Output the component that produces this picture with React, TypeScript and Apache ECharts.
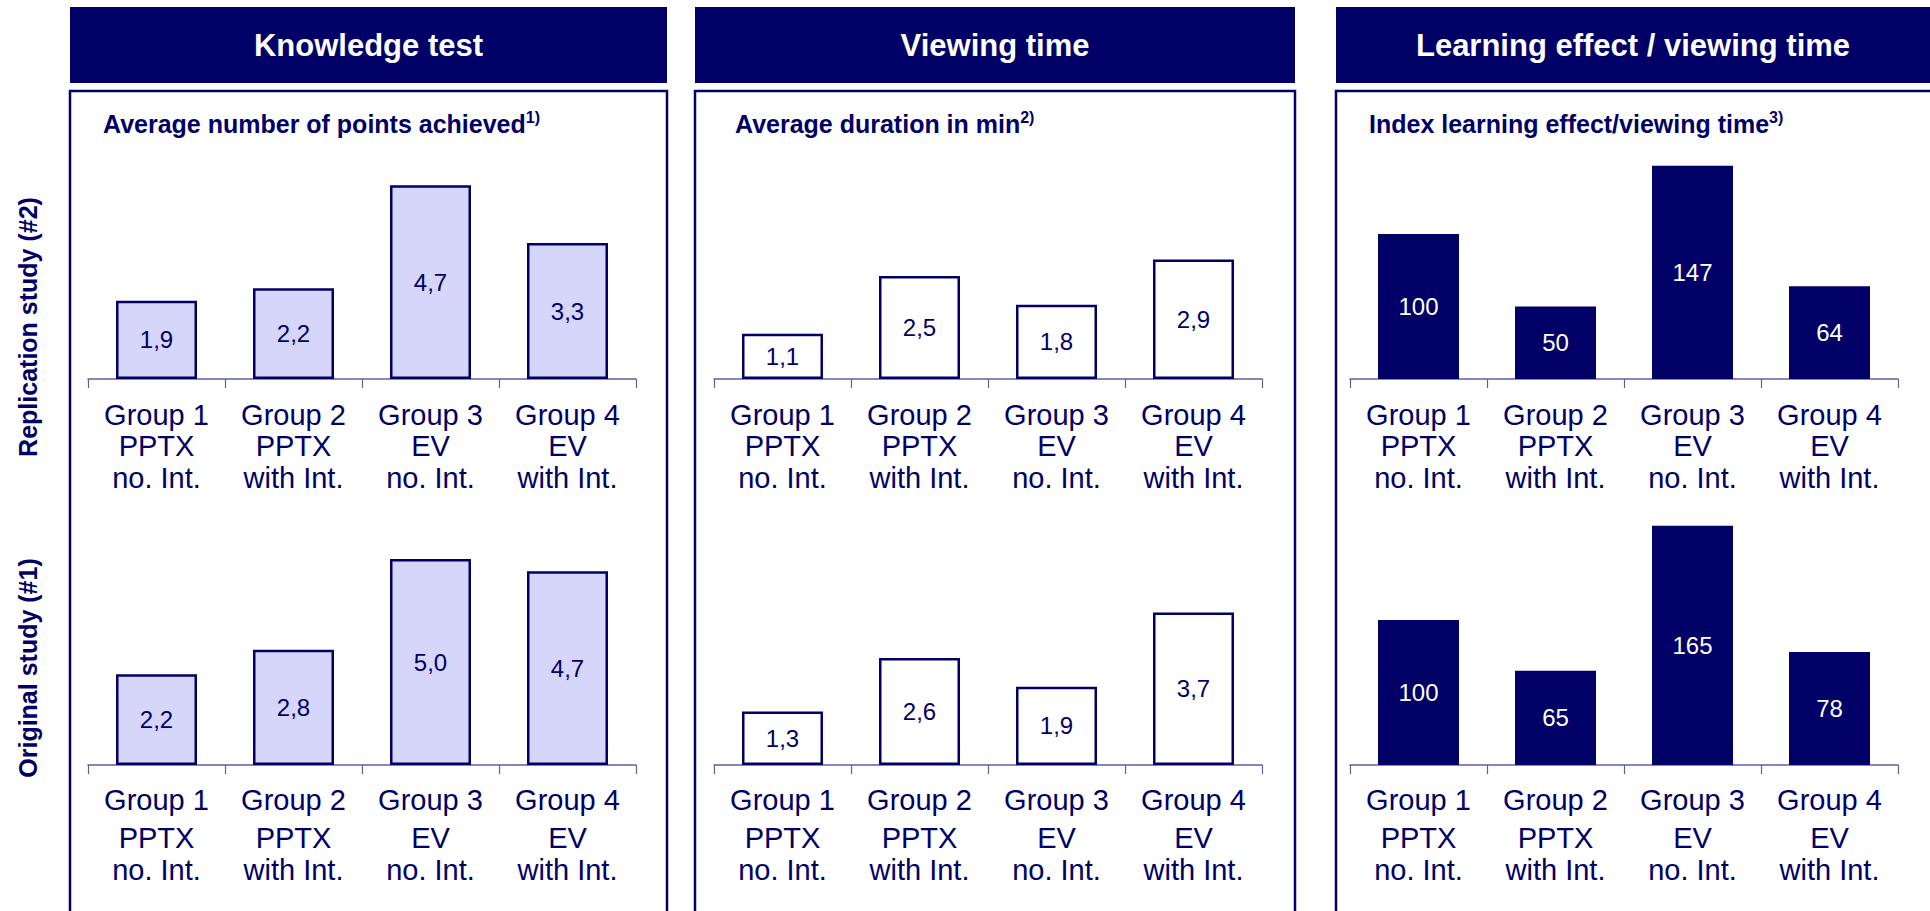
import React, { useEffect, useRef } from "react";
import * as echarts from "echarts";

const categories = [
  "Group 1\nPPTX\nno. Int.",
  "Group 2\nPPTX\nwith Int.",
  "Group 3\nEV\nno. Int.",
  "Group 4\nEV\nwith Int.",
];
const knowledgeReplication = [1.9, 2.2, 4.7, 3.3];
const knowledgeOriginal = [2.2, 2.8, 5.0, 4.7];
const viewingReplication = [1.1, 2.5, 1.8, 2.9];
const viewingOriginal = [1.3, 2.6, 1.9, 3.7];
const indexReplication = [100, 50, 147, 64];
const indexOriginal = [100, 65, 165, 78];

const headers = ["Knowledge test", "Viewing time", "Learning effect / viewing time"];
const subtitles = ["Average number of points achieved", "Average duration in min", "Index learning effect/viewing time"];
const footnotes = ["1)", "2)", "3)"];
const rowLabels = ["Replication study (#2)", "Original study (#1)"];

const NAVY = "#000066";
const LAVENDER = "#D6D6FB";
const AXIS = "#6060A0";
const FONT = "'Liberation Sans', Arial, Helvetica, sans-serif";

export default function App() {
  const ref = useRef<HTMLDivElement>(null);
  useEffect(() => {
    if (!ref.current) return;
    const chart = echarts.init(ref.current, null, { renderer: "svg" });

    const panelX = [70, 695, 1336];
    const panelR = [667, 1295, 1945];
    const gridLeft = [88, 714, 1350];
    const gridW = 548;
    const rowBottom = [379, 765];
    const H = 250;
    const maxVal = [250 / 41.2, 250 / 41.2, 250 / 1.45];

    const grids: any[] = [];
    const xAxes: any[] = [];
    const yAxes: any[] = [];
    const series: any[] = [];
    const dataSets = [
      [knowledgeReplication, viewingReplication, indexReplication],
      [knowledgeOriginal, viewingOriginal, indexOriginal],
    ];

    for (let r = 0; r < 2; r++) {
      for (let p = 0; p < 3; p++) {
        const idx = r * 3 + p;
        grids.push({ left: gridLeft[p], width: gridW, top: rowBottom[r] - H, height: H });
        xAxes.push({
          type: "category",
          gridIndex: idx,
          data: categories,
          axisLine: { show: true, lineStyle: { color: AXIS, width: 1.5 } },
          axisTick: { show: true, length: 9, lineStyle: { color: AXIS, width: 1.2 } },
          axisLabel: {
            interval: 0,
            margin: r === 0 ? 20 : 13,
            color: NAVY,
            fontFamily: FONT,
            formatter: (v: string) => {
              const [a, b, c] = v.split("\n");
              return `{g|${a}}\n{s|${b}}\n{s|${c}}`;
            },
            rich: {
              g: { fontSize: 29, fontFamily: FONT, color: NAVY, lineHeight: r === 0 ? 31.5 : 44 },
              s: { fontSize: 29, fontFamily: FONT, color: NAVY, lineHeight: r === 0 ? 31.5 : 32 },
            },
          },
        });
        yAxes.push({ type: "value", gridIndex: idx, min: 0, max: maxVal[p], show: false, splitLine: { show: false } });
        const isIndex = p === 2;
        series.push({
          type: "bar",
          xAxisIndex: idx,
          yAxisIndex: idx,
          data: dataSets[r][p],
          barWidth: 81,
          z: 3,
          itemStyle: isIndex
            ? { color: NAVY }
            : { color: p === 0 ? LAVENDER : "#FFFFFF", borderColor: NAVY, borderWidth: 2.5 },
          label: {
            show: true,
            position: "inside",
            fontSize: 24,
            fontFamily: FONT,
            color: isIndex ? "#FFFFFF" : NAVY,
            formatter: (prm: any) => (isIndex ? String(prm.value) : Number(prm.value).toFixed(1).replace(".", ",")),
          },
        });
      }
    }

    const graphics: any[] = [];
    for (let p = 0; p < 3; p++) {
      graphics.push({
        type: "rect",
        shape: { x: panelX[p], y: 7, width: panelR[p] - panelX[p], height: 76 },
        style: { fill: NAVY },
      });
      graphics.push({
        type: "text",
        x: (panelX[p] + Math.min(panelR[p], 1930)) / 2,
        y: 45,
        style: {
          text: headers[p],
          fill: "#FFFFFF",
          font: `bold 31px ${FONT}`,
          textAlign: "center",
          textVerticalAlign: "middle",
        },
      });
      graphics.push({
        type: "rect",
        shape: { x: panelX[p], y: 91, width: panelR[p] - panelX[p], height: 900 },
        style: { fill: "none", stroke: NAVY, lineWidth: 2.5 },
      });
      graphics.push({
        type: "text",
        x: panelX[p] + (p === 1 ? 40 : 33),
        y: 124,
        style: {
          text: `{m|${subtitles[p]}}{sup|${footnotes[p]}}`,
          textAlign: "left",
          textVerticalAlign: "middle",
          rich: {
            m: { font: `bold 25px ${FONT}`, fill: NAVY, lineHeight: 30 },
            sup: { font: `bold 16px ${FONT}`, fill: NAVY, lineHeight: 17, verticalAlign: "top" },
          },
        },
      });
    }
    const rowCenters = [327, 668];
    for (let r = 0; r < 2; r++) {
      graphics.push({
        type: "text",
        x: 28,
        y: rowCenters[r],
        rotation: Math.PI / 2,
        style: {
          text: rowLabels[r],
          fill: NAVY,
          font: `bold 25px ${FONT}`,
          textAlign: "center",
          textVerticalAlign: "middle",
        },
      });
    }

    chart.setOption({
      animation: false,
      backgroundColor: "#FFFFFF",
      grid: grids,
      xAxis: xAxes,
      yAxis: yAxes,
      series,
      graphic: { elements: graphics },
    });
    return () => chart.dispose();
  }, []);
  return <div ref={ref} style={{ position: "fixed", left: 0, top: 0, width: 1930, height: 911 }} />;
}
